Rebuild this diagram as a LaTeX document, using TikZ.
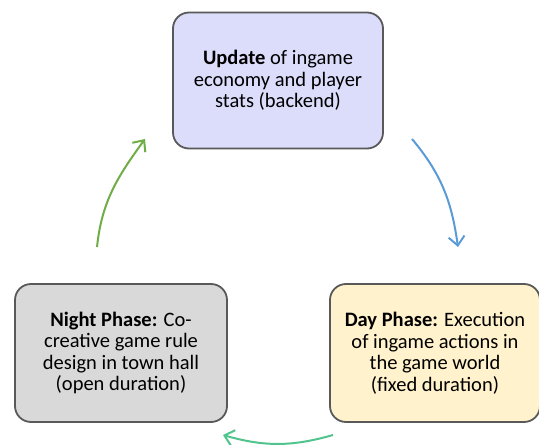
\documentclass[tikz,border=0pt]{standalone}
\usepackage{fontspec}
\setmainfont{Carlito}
\usetikzlibrary{arrows.meta, positioning}
\definecolor{boxline}{HTML}{595959}
\definecolor{updatefill}{HTML}{DCDCFB}
\definecolor{nightfill}{HTML}{D9D9D9}
\definecolor{dayfill}{HTML}{FFF2CC}
\definecolor{bluearrow}{HTML}{5B9BD5}
\definecolor{greenarrow}{HTML}{70AD47}
\definecolor{mintarrow}{HTML}{50C48C}
\tikzset{
  phase/.style = {
    draw = boxline, line width=1.8pt, rounded corners=16pt,
    minimum width=210pt, minimum height=136pt, align=center,
    font=\fontsize{20.5}{21.5}\selectfont
  },
  cycle/.style = {
    line width=2pt, -{Straight Barb[length=9pt, width=16pt, line width=2pt]}
  }
}

\begin{document}
\begin{tikzpicture}[x=1pt, y=1pt]

  \useasboundingbox (0,0) rectangle (539,445);

  %% Game loop

  % Phases
  \node[phase, fill=updatefill] (update) at (278,364.5)
    {\textbf{Update} of ingame\\economy and player\\stats (backend)};
  \node[phase, fill=nightfill, minimum width=212pt, minimum height=138pt] (night) at (121,92)
    {\textbf{Night Phase:} Co-\\creative game rule\\design in town hall\\(open duration)};
  \node[phase, fill=dayfill, minimum height=138pt] (day) at (435,92)
    {\textbf{Day Phase:} Execution\\of ingame actions in\\the game world\\(fixed duration)};

  % Arrow ends
  \coordinate (updateout) at (412,306);
  \coordinate (dayin) at (458,198);
  \coordinate (dayout) at (333,10);
  \coordinate (nightin) at (223,10);
  \coordinate (nightout) at (97,198);
  \coordinate (updatein) at (145,306);

  % Arrows
  \draw[cycle, bluearrow] (updateout) to[out=-50, in=98] (dayin);
  \draw[cycle, mintarrow] (dayout) to[bend left=16] (nightin);
  \draw[cycle, greenarrow] (nightout) to[out=84, in=-126] (updatein);

\end{tikzpicture}
\end{document}
